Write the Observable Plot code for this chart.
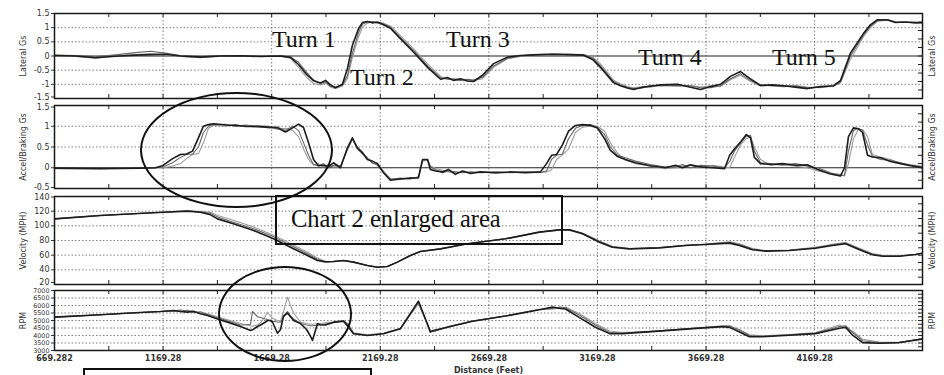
<!DOCTYPE html>
<html><head><meta charset="utf-8">
<script src="https://cdn.jsdelivr.net/npm/d3@7"></script>
<script src="https://cdn.jsdelivr.net/npm/@observablehq/plot@0.6"></script>
<style>
body{margin:0;background:#fff;}
#chart{position:relative;width:944px;height:375px;overflow:hidden;background:#fff;font-family:"DejaVu Sans",sans-serif;}
#chart svg{position:absolute;left:0;}
.ann{position:absolute;font-family:"Liberation Serif","Times New Roman",serif;font-size:24px;line-height:1;color:#111;white-space:nowrap;}
.ring{position:absolute;box-sizing:border-box;border:2px solid #111;border-radius:50%;}
.box{position:absolute;box-sizing:border-box;border:2px solid #111;}
</style></head><body><div id="chart"></div><script>
// ---------- shared x axis ----------
const xDomain = [669.282, 4666];
const xTicks = [669.282, 1169.282, 1669.282, 2169.282, 2669.282, 3169.282, 3669.282, 4169.282];
const xTickLabels = ["669.282", "1169.28", "1669.28", "2169.28", "2669.28", "3169.28", "3669.28", "4169.28"];
const xMinorTicks = [919.282, 1169.282, 1419.282, 1669.282, 1919.282, 2169.282, 2419.282, 2669.282, 2919.282, 3169.282, 3419.282, 3669.282, 3919.282, 4169.282, 4419.282];
const xLabel = "Distance (Feet)";

// ---------- Lateral Gs ----------
const latDist = [669,766,858,950,1042,1111,1180,1249,1341,1434,1526,1618,1710,1756,1793,1830,1862,1894,1917,1940,1963,1995,2018,2041,2069,2087,2110,2133,2156,2179,2216,2262,2322,2387,2447,2479,2506,2539,2571,2599,2640,2691,2755,2815,2875,2967,3045,3105,3147,3183,3243,3275,3307,3335,3377,3413,3459,3538,3598,3644,3690,3736,3782,3828,3874,3920,3975,4026,4081,4136,4196,4256,4288,4334,4394,4426,4459,4505,4541,4588,4634,4666];
const latLapA = [0.02,0,-0.06,-0.01,0.03, 0.05,0.06,0,-0.04,0, 0.01,-0.02,0,-0.05,-0.3, -0.65,-0.87,-0.95,-0.86,-1.02, -1.12,-1,-0.45,0.38,0.96, 1.18,1.22,1.17,1.2,1.12, 0.98,0.61,0.14,-0.4,-0.82, -0.76,-0.86,-0.8,-0.88,-0.9, -0.68,-0.27,-0.04,0.02,0.04, 0.06,0.05,0.03,-0.12,-0.4, -0.94,-1.05,-1.13,-1.18,-1.1, -1.07,-1.02,-1,-1.1,-1.18, -1.08,-1,-0.72,-0.55,-0.81, -1.04,-1.02,-1.05,-1.1,-1.15, -1.08,-1.05,-0.87,0.1,0.79, 1.1,1.28,1.27,1.18,1.2, 1.17,1.18];
const latLapB = [0.03,0.02,-0.03,0.04,0.12, 0.17,0.1,0.02,-0.02,0.02, 0,0,0.01,-0.03,-0.22, -0.58,-0.85,-0.97,-0.92,-1.07, -1.1,-1.03,-0.7,0.1,0.82, 1.12,1.2,1.22,1.16,1.15, 1.02,0.66,0.2,-0.35,-0.77, -0.82,-0.84,-0.86,-0.82,-0.85, -0.75,-0.35,-0.08,0,0.05, 0.07,0.04,0.04,-0.07,-0.35, -0.9,-1.02,-1.1,-1.15,-1.13, -1.03,-1.06,-1.04,-1.05,-1.12, -1.12,-1.05,-0.8,-0.63,-0.86, -1.02,-1.06,-1.08,-1.06,-1.12, -1.1,-1.07,-0.92,0,0.74, 1.05,1.26,1.29,1.2,1.18, 1.2,1.16];
const latLapC = [0,-0.02,-0.08,0,0.05, 0.08,0.04,-0.02,-0.06,-0.01, -0.02,0.01,-0.02,-0.08,-0.4, -0.75,-0.97,-1.02,-0.95,-1.1, -1.15,-1.06,-0.8,-0.05,0.66, 1.02,1.16,1.2,1.18,1.17, 1.06,0.72,0.26,-0.28,-0.72, -0.8,-0.8,-0.84,-0.88,-0.86, -0.8,-0.4,-0.1,-0.02,0.03, 0.05,0.06,0.05,-0.03,-0.28, -0.85,-0.98,-1.08,-1.12,-1.08, -1.1,-1.03,-1.07,-1.04,-1.1, -1.05,-1.08,-0.84,-0.68,-0.9, -1.06,-1.03,-1.06,-1.04,-1.1, -1.12,-1.05,-0.95,-0.12,0.68, 1,1.22,1.28,1.22,1.2, 1.18,1.18];
const latTicks = [1.5,1,0.5,0,-0.5,-1,-1.5];
const latTickLabels = ["1.5","1","0.5","0","-0.5","-1","-1.5"];
const latGrid = [1,0.5,-0.5,-1];
const latMinor = [-1.2,-0.9,-0.6,-0.3,0,0.3,0.6,0.9,1.2];

// ---------- Accel/Braking Gs ----------
const accDist = [669,881,1065,1134,1167, 1213,1249,1277,1305,1332, 1355,1378,1401,1457,1502, 1549,1604,1655,1696,1733, 1765,1793,1816,1839,1862, 1885,1908,1931,1954,1986, 2018,2041,2064,2087,2110, 2133,2156,2184,2216,2262, 2308,2345,2364,2387,2400, 2424,2456,2483,2515,2548, 2585,2631,2700,2769,2838, 2907,2935,2958,2981,3008, 3036,3068,3100,3137,3169, 3202,3229,3262,3298,3344, 3413,3482,3528,3561,3598, 3644,3699,3755,3778,3800, 3828,3855,3874,3892,3920, 3966,4021,4081,4136,4183, 4242,4288,4307,4325,4348, 4371,4390,4413,4435,4473, 4519,4565,4611,4666];
const accLapA = [-0.01,-0.02,-0.01,0,0.05, 0.22,0.32,0.33,0.4,0.72, 1,1.04,1.06,1.03,1.02, 1,0.99,0.98,0.96,0.86, 0.96,1.05,0.97,0.6,0.2, 0.05,0.06,0.03,0.12,0, 0.48,0.72,0.47,0.36,0.2, 0.16,0.1,-0.12,-0.3,-0.27, -0.25,-0.24,0.2,0.2,-0.04, -0.08,-0.1,-0.04,-0.16,-0.08, -0.14,-0.1,-0.12,-0.1,-0.12, -0.1,0.1,0.3,0.32,0.55, 0.88,1.02,1.04,1.02,0.96, 0.7,0.42,0.27,0.2,0.12, 0.05,0,0.06,0,0.07, 0.02,0,-0.02,0.3,0.45, 0.62,0.8,0.72,0.25,0.1, 0.08,0.1,0.06,0.07,-0.04, -0.15,-0.2,0,0.75,0.96, 0.94,0.85,0.3,0.26,0.24, 0.15,0.1,0.05,0];
const accLapB = [0,-0.01,0,0,0.02, 0.12,0.25,0.32,0.33,0.5, 0.85,1,1.04,1.05,1, 1.03,1,0.96,0.98,0.9, 1,0.9,0.6,0.3,0.08, 0.04,0.1,0,0.06,0.04, 0.45,0.7,0.5,0.38,0.22, 0.12,0.06,-0.1,-0.28,-0.25, -0.27,-0.22,0.18,0.2,0.02, -0.05,-0.12,-0.08,-0.1,-0.12, -0.1,-0.12,-0.1,-0.12,-0.1, -0.11,-0.08,0.2,0.3,0.33, 0.7,0.95,1.02,1.04,0.98, 0.8,0.5,0.3,0.24,0.16, 0.08,0.02,0.02,0.08,0, 0.06,0.04,0,0.15,0.4, 0.6,0.76,0.78,0.4,0.12, 0.1,0.06,0.1,0.04,0, -0.12,-0.18,-0.18,0.4,0.9, 0.95,0.9,0.55,0.28,0.2, 0.18,0.12,0.06,0.02];
const accLapC = [-0.02,-0.02,0,0,0, 0.04,0.1,0.22,0.32,0.34, 0.6,0.95,1.02,1,1.04, 0.98,1.02,1,0.92,0.95, 0.9,0.75,0.45,0.2,0.06, 0.1,0.02,0.08,0.02,0.02, 0.42,0.68,0.45,0.33,0.25, 0.1,0.12,-0.08,-0.26,-0.28, -0.24,-0.25,0.16,0.18,0.05, -0.02,-0.06,-0.1,-0.12,-0.1, -0.12,-0.1,-0.13,-0.11,-0.1, -0.12,-0.1,-0.05,0.2,0.31, 0.45,0.85,0.98,1,1, 0.88,0.6,0.35,0.18,0.1, 0.04,-0.02,0,0.04,0.06, 0,0.06,0.02,0,0.25, 0.55,0.7,0.74,0.5,0.2, 0.06,0.08,0.04,0,-0.08, -0.14,-0.16,-0.2,0.1,0.7, 0.92,0.92,0.75,0.32,0.26, 0.2,0.1,0.08,0.03];
const accTicks = [1.5,1,0.5,0,-0.5];
const accTickLabels = ["1.5","1","0.5","0","-0.5"];
const accGrid = [1,0.5];
const accMinor = [-0.3,-0.1,0.1,0.3,0.5,0.7,0.9,1.1,1.3];

// ---------- Velocity (MPH) ----------
const velDist = [669,881,1033,1171,1282, 1341,1388,1420,1493,1586, 1678,1756,1834,1880,1917, 1954,2000,2046,2110,2156, 2202,2248,2308,2354,2447, 2571,2746,2902,2994,3040, 3100,3179,3238,3317,3455, 3575,3667,3778,3823,3883, 3943,4053,4173,4251,4312, 4376,4435,4482,4560,4634, 4666];
const velLapA = [109.5,114.1,116.4,118.6,120, 118.6,115,109.5,102.7,93.6, 82.3,70.9,59.5,52.7,50.8, 51.4,52.7,50.5,45.9,43.6, 44.5,50.5,59.5,65,68.6, 75.5,82.3,91.4,94.5,94.5, 89.1,77.7,70.9,68.6,70, 73.2,74.5,76.4,73.2,67.3, 65.5,66.4,69.5,73.2,75.5, 67.3,60.5,58.6,58.6,60.9, 62.7];
const velLapB = [109.5,114.1,116.4,118.6,120.3, 119,117,112,105,96, 85,73.5,62,54.5,51, 51.5,52.7,50.5,45.9,43.6, 44.5,50.5,59.5,65,68.8, 75.5,82.3,91.4,94.5,94.6, 89.8,78.6,71.4,68.8,70.2, 73.4,74.8,77.4,74.6,68.4, 65.8,66.6,70,74,76.4, 68.5,61.4,59.2,58.8,61, 62.8];
const velLapC = [109.6,114.2,116.5,118.8,120.5, 119.5,118.5,114,107.5,98.5, 87,76,64,56,51.5, 51,52.5,50.5,46,43.8, 44.6,50.6,59.6,65.2,68.8, 75.6,82.4,91.6,94.6,94.8, 90.3,79.4,72,69,70.4, 73.6,75,78.2,75.6,69.2, 66.2,67,70.6,74.8,77.4, 69.5,62.2,59.8,59,61.2, 62.9];
const velTicks = [140,120,100,80,60,40,20];
const velTickLabels = ["140","120","100","80","60","40","20"];
const velGrid = [120,100,80,60,40];
const velMinor = [30,40,50,60,70,80,90,100,110,120,130];

// ---------- RPM ----------
const rpmDist = [669,881,1019,1157,1217, 1249,1282,1309,1341,1374, 1420,1466,
  1526,1549,1572,1581,1604,1618,1641,1650,1664,1673,1696,1710,1724,1742,1756,1770,1802,1830,1848,1857,1880,1894,1917,1954,2000,2023,
  2046,2110,2184,2262,2345,2368,2400,2414,2493,2594,2746,2902,2962,2999,3022,3087,3160,3225,3284,3436,3593,3745,3778,3823,3869,3929,4053,4173,4284,4312,4344,4390,4468,4560,4666];
const rpmLapA = [5224,5379,5500,5601,5668, 5600,5557,5620,5450,5335, 5100,4891,
  4602,4470,4336,4380,4600,4700,4900,5000,5000,4900,4150,4400,5300,5500,5250,5000,4800,4400,3950,3670,4780,4720,4700,4891,4958,4558,
  4114,4003,4114,4447,6290,5446,4225,4336,4600,4950,5296,5722,5892,5800,5765,5190,4550,4125,4125,4274,4444,4593,4540,4231,3912,3912,4018,4125,4487,4550,4018,3528,3486,3528,3762];
const rpmLapB = [5224,5379,5500,5601,5640, 5700,5640,5520,5580,5400, 5180,4980,
  4700,4720,4750,5600,5250,5200,5100,5050,4980,4950,4900,4880,5200,5600,5300,5100,4800,4700,4650,4650,4680,4700,4760,4850,4950,4700,
  4150,4020,4130,4460,6200,5400,4300,4250,4620,4960,5300,5730,5820,5900,5850,5350,4700,4200,4150,4290,4460,4620,4650,4350,4000,3950,4040,4150,4600,4650,4200,3650,3520,3540,3770];
const rpmLapC = [5224,5380,5500,5600,5620, 5580,5700,5600,5500,5450, 5250,5050,
  4800,4720,4650,4620,4700,4850,5300,5550,5300,5150,5000,4950,5600,6556,6000,5500,4900,4800,4750,4750,4780,4800,4850,4900,5000,4750,
  4180,4040,4150,4480,6100,5350,4350,4300,4640,4970,5310,5740,5760,5850,5900,5450,4800,4300,4200,4300,4470,4650,4600,4400,4050,3980,4060,4200,4700,4450,4300,3750,3560,3550,3780];
const rpmTicks = [7000,6500,6000,5500,5000,4500,4000,3500,3000];
const rpmTickLabels = ["7000","6500","6000","5500","5000","4500","4000","3500","3000"];
const rpmGrid = [6500,6000,5500,5000,4500,4000,3500];
const rpmMinor = [3250,3500,3750,4000,4250,4500,4750,5000,5250,5500,5750,6000,6250,6500,6750];

// ---------- annotations ----------
const turnLabels = ["Turn 1","Turn 2","Turn 3","Turn 4","Turn 5"];
const boxLabel = "Chart 2 enlarged area";

function panel(o) {
  const innerH = o.height - o.mt - o.mb;
  const innerW = 944 - 54 - 22;
  const laps = [
    {v: o.c, stroke: "#9c9c9c", w: 1.1},
    {v: o.b, stroke: "#666", w: 1.1},
    {v: o.a, stroke: "#1c1c1c", w: 1.6}
  ];
  const gridStyle = {stroke: "#444", strokeOpacity: 0.85, strokeDasharray: "1.5,2", strokeWidth: 0.8};
  const marks = [
    Plot.gridY(o.grid, gridStyle),
    Plot.gridX(xTicks.slice(1), gridStyle)
  ];
  if (o.zero) marks.push(Plot.ruleY([0], {stroke: "#222", strokeWidth: 1.1}));
  for (const l of laps) {
    marks.push(Plot.line(o.dist.map((d, i) => ({d, v: l.v[i]})), {x: "d", y: "v", stroke: l.stroke, strokeWidth: l.w, clip: true}));
  }
  // inward minor ticks on top, bottom and right edges
  marks.push(Plot.tickX(xMinorTicks, {x: d => d, stroke: "#222", strokeWidth: 1, insetBottom: innerH - 4}));
  marks.push(Plot.tickX(xMinorTicks, {x: d => d, stroke: "#222", strokeWidth: 1, insetTop: innerH - 4}));
  marks.push(Plot.tickY(o.minor, {y: d => d, stroke: "#222", strokeWidth: 1, insetLeft: innerW - 4}));
  marks.push(Plot.frame({stroke: "#1a1a1a", strokeWidth: 1.5}));
  const n = o.ticks.length;
  const fs = o.tickFont || 8;
  const fmt = d => o.tickLabels[o.ticks.indexOf(d)];
  const yAxisBase = {anchor: "left", tickSize: 3, tickPadding: 2, fontSize: fs, tickFormat: fmt, label: null};
  marks.push(Plot.axisY(o.ticks.slice(1, n - 1), yAxisBase));
  marks.push(Plot.axisY([o.ticks[0]], {...yAxisBase, dy: o.topDy || 0}));
  marks.push(Plot.axisY([o.ticks[n - 1]], {...yAxisBase, dy: o.botDy || 0}));
  marks.push(Plot.axisY([], {anchor: "left", tickSize: 0, fontSize: 8,
    label: o.label, labelAnchor: "center", labelArrow: "none", labelOffset: 34}));
  marks.push(Plot.axisY([], {anchor: "right", tickSize: 0, fontSize: 8,
    label: o.label, labelAnchor: "center", labelArrow: "none", labelOffset: 12}));
  if (o.xLabels) {
    marks.push(Plot.axisX(xTicks, {anchor: "bottom", tickSize: 0, tickPadding: 5, fontSize: 8, fontWeight: "bold",
      tickFormat: d => xTickLabels[xTicks.indexOf(d)],
      label: xLabel, labelAnchor: "center", labelArrow: "none", labelOffset: 22}));
  } else {
    marks.push(Plot.axisX([], {anchor: "bottom", label: null}));
  }
  const svg = Plot.plot({
    width: 944, height: o.height,
    marginLeft: 54, marginRight: 22, marginTop: o.mt, marginBottom: o.mb,
    x: {domain: xDomain},
    y: {domain: o.domain},
    style: {background: "transparent", fontFamily: "DejaVu Sans, sans-serif", fontSize: "8px", color: "#333", overflow: "visible"},
    marks
  });
  svg.style.top = o.top + "px";
  return svg;
}

const chart = document.getElementById("chart");
chart.append(panel({top: 0, height: 100, mt: 13, mb: 2, domain: [-1.5, 1.5], dist: latDist, a: latLapA, b: latLapB, c: latLapC,
  ticks: latTicks, tickLabels: latTickLabels, grid: latGrid, minor: latMinor, zero: true, label: "Lateral Gs", botDy: -1.5}));
chart.append(panel({top: 100, height: 90, mt: 5, mb: 2, domain: [-0.5, 1.5], dist: accDist, a: accLapA, b: accLapB, c: accLapC,
  ticks: accTicks, tickLabels: accTickLabels, grid: accGrid, minor: accMinor, zero: true, label: "Accel/Braking Gs", topDy: 1.5, botDy: -1}));
chart.append(panel({top: 190, height: 96, mt: 6, mb: 2, domain: [20, 140], dist: velDist, a: velLapA, b: velLapB, c: velLapC,
  ticks: velTicks, tickLabels: velTickLabels, grid: velGrid, minor: velMinor, zero: false, label: "Velocity (MPH)", topDy: 0.5, botDy: -2}));
chart.append(panel({top: 286, height: 94, mt: 4, mb: 30, domain: [3000, 7000], dist: rpmDist, a: rpmLapA, b: rpmLapB, c: rpmLapC,
  ticks: rpmTicks, tickLabels: rpmTickLabels, grid: rpmGrid, minor: rpmMinor, zero: false, label: "RPM", xLabels: true, tickFont: 6.4}));

// overlay annotations (HTML)
function addDiv(cls, css, text) {
  const el = document.createElement("div");
  el.className = cls;
  Object.assign(el.style, css);
  if (text) el.textContent = text;
  chart.append(el);
}
addDiv("ring", {left: "140px", top: "92px", width: "193px", height: "116px"});
addDiv("ring", {left: "218px", top: "266px", width: "134px", height: "96px"});
addDiv("box", {left: "275px", top: "195px", width: "288px", height: "50px"});
addDiv("box", {left: "83px", top: "368px", width: "289px", height: "20px"});
addDiv("ann", {left: "272px", top: "27px"}, turnLabels[0]);
addDiv("ann", {left: "350px", top: "65px"}, turnLabels[1]);
addDiv("ann", {left: "446px", top: "27px"}, turnLabels[2]);
addDiv("ann", {left: "638px", top: "45px"}, turnLabels[3]);
addDiv("ann", {left: "772px", top: "45px"}, turnLabels[4]);
addDiv("ann", {left: "291px", top: "207px", fontSize: "24.5px"}, boxLabel);
</script></body></html>
